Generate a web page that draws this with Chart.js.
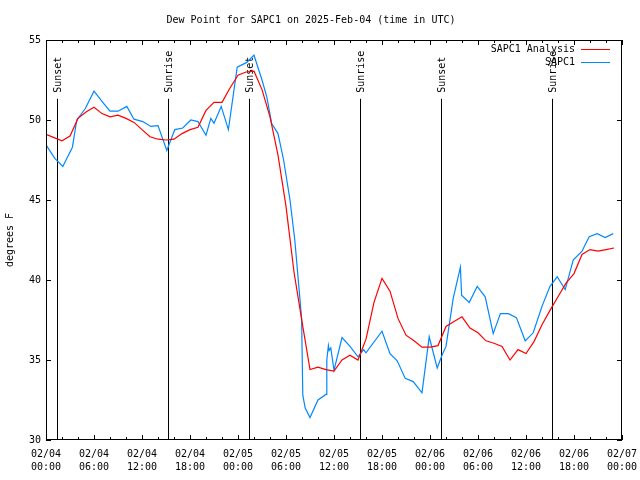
<!DOCTYPE html>
<html>
<head>
<meta charset="utf-8">
<title>Dew Point for SAPC1</title>
<script src="https://cdn.jsdelivr.net/npm/chart.js@4/dist/chart.umd.min.js"></script>
<style>
  html, body { margin: 0; padding: 0; background: #fff; }
  #wrap { width: 640px; height: 480px; }
</style>
</head>
<body>
<div id="wrap"><canvas id="dewChart"></canvas></div>
<script>
// x values are hours since 2025-02-04 00:00 UTC
const analysisHours = [0, 1, 2, 3, 4, 5, 6, 7, 8, 9, 10, 11, 12, 13, 14, 15, 16, 17, 18, 19, 20, 21, 22, 23,
  24, 25, 26, 27, 28, 29, 30, 31, 32, 33, 34, 35, 36, 37, 38, 39, 40, 41, 42, 43, 44, 45, 46, 47,
  48, 49, 50, 51, 52, 53, 54, 55, 56, 57, 58, 59, 60, 61, 62, 63, 64, 65, 66, 67, 68, 69, 70, 71];
const analysisValues = [49.1, 48.9, 48.7, 49.0, 50.1, 50.5, 50.8, 50.4, 50.2, 50.3, 50.1, 49.85, 49.4, 48.95, 48.8, 48.75, 48.8, 49.15, 49.4, 49.55, 50.6, 51.1, 51.1, 52.0,
  52.8, 53.0, 53.05, 51.9, 50.2, 47.8, 44.6, 40.5, 37.4, 34.4, 34.55, 34.4, 34.3, 35.0, 35.3, 35.0, 36.3, 38.6, 40.1, 39.3, 37.6, 36.55, 36.2, 35.8,
  35.8, 35.9, 37.1, 37.4, 37.7, 37.0, 36.7, 36.2, 36.05, 35.85, 35.0, 35.65, 35.4, 36.15, 37.2, 38.1, 38.95, 39.8, 40.4, 41.6, 41.9, 41.8, 41.9, 42.0];

const obsHours = [0.0, 1.1, 2.1, 3.3, 3.85, 4.9, 6.0, 7.1, 8.0, 9.0, 10.1, 11.0, 12.1, 13.1, 14.0, 15.1, 16.1, 17.1, 18.1, 19.0, 20.0, 20.6, 21.0, 21.9, 22.8, 23.9,
  25.1, 26.0, 27.0, 27.6, 28.2, 29.0, 29.7, 30.5, 31.1, 31.5, 31.95, 32.1, 32.4, 33.0, 34.0, 35.0, 35.1, 35.3, 35.4, 35.6, 36.0, 37.0, 38.0, 39.0, 39.7, 40.0,
  42.0, 43.0, 43.9, 44.9, 45.9, 47.0, 47.9, 48.9, 49.5, 50.0, 50.9, 51.8, 51.95, 52.9, 53.9, 54.9, 55.9, 56.8, 57.8, 58.8, 59.9, 60.9,
  62.0, 63.0, 63.9, 64.9, 65.9, 67.0, 67.9, 68.9, 69.9, 70.9];
const obsValues = [48.45, 47.6, 47.1, 48.3, 50.0, 50.7, 51.8, 51.1, 50.55, 50.55, 50.85, 50.05, 49.9, 49.6, 49.65, 48.1, 49.4, 49.5, 50.0, 49.9, 49.05, 50.1, 49.8, 50.85, 49.4, 53.3,
  53.6, 54.05, 52.5, 51.45, 49.8, 49.15, 47.5, 45.0, 42.5, 40.2, 37.6, 32.8, 32.0, 31.4, 32.5, 32.85, 35.0, 35.9, 35.6, 35.75, 34.35, 36.4, 35.85, 35.2, 35.65, 35.45,
  36.8, 35.4, 34.95, 33.85, 33.65, 32.95, 36.45, 34.5, 35.3, 35.85, 38.85, 40.8, 39.05, 38.6, 39.6, 38.95, 36.65, 37.9, 37.9, 37.65, 36.2, 36.7,
  38.35, 39.6, 40.2, 39.4, 41.25, 41.8, 42.7, 42.9, 42.65, 42.9];

// sunrise / sunset markers
const sunHours = [1.4, 15.3, 25.4, 39.2, 49.4, 63.2];
const sunLabels = ['Sunset', 'Sunrise', 'Sunset', 'Sunrise', 'Sunset', 'Sunrise'];

// x tick labels, one per 6 hours
const xTickDates = ['02/04', '02/04', '02/04', '02/04', '02/05', '02/05', '02/05', '02/05', '02/06', '02/06', '02/06', '02/06', '02/07'];
const xTickTimes = ['00:00', '06:00', '12:00', '18:00', '00:00', '06:00', '12:00', '18:00', '00:00', '06:00', '12:00', '18:00', '00:00'];

const FONT = "'DejaVu Sans Mono', 'Liberation Mono', monospace";
const RED = '#ff0000';
const BLUE = '#0088ff';

function toPoints(xs, ys) {
  return xs.map((x, i) => ({ x: x, y: ys[i] }));
}

// sunrise/sunset lines drawn behind the data
const sunMarks = {
  id: 'sunMarks',
  beforeDatasetsDraw(chart) {
    const { ctx, chartArea: a, scales: { x } } = chart;
    const top = a.bottom - a.height * 0.853;
    ctx.save();
    ctx.strokeStyle = '#000';
    ctx.fillStyle = '#000';
    ctx.lineWidth = 1;
    ctx.font = '10px ' + FONT;
    sunHours.forEach((h, i) => {
      const px = Math.round(x.getPixelForValue(h)) + 0.5;
      ctx.beginPath();
      ctx.moveTo(px, a.bottom);
      ctx.lineTo(px, top);
      ctx.stroke();
      ctx.save();
      ctx.translate(px + 1, top - 6);
      ctx.rotate(-Math.PI / 2);
      ctx.textAlign = 'left';
      ctx.textBaseline = 'middle';
      ctx.fillText(sunLabels[i], 0, 0);
      ctx.restore();
    });
    ctx.restore();
  }
};

// gnuplot style frame, inward ticks and legend
const frameAndLegend = {
  id: 'frameAndLegend',
  afterDraw(chart) {
    const { ctx, chartArea: a, scales: { x, y } } = chart;
    ctx.save();
    ctx.strokeStyle = '#000';
    ctx.lineWidth = 1;
    ctx.strokeRect(a.left + 0.5, a.top + 0.5, a.width - 1, a.height - 1);

    ctx.beginPath();
    for (let h = x.min; h <= x.max; h += 2) {
      const px = Math.round(x.getPixelForValue(h)) + 0.5;
      const len = h % 6 === 0 ? 5 : 3;
      ctx.moveTo(px, a.bottom);
      ctx.lineTo(px, a.bottom - len);
      ctx.moveTo(px, a.top);
      ctx.lineTo(px, a.top + len);
    }
    y.ticks.forEach(t => {
      const py = Math.round(y.getPixelForValue(t.value)) + 0.5;
      ctx.moveTo(a.left, py);
      ctx.lineTo(a.left + 5, py);
      ctx.moveTo(a.right, py);
      ctx.lineTo(a.right - 5, py);
    });
    ctx.stroke();

    // legend
    ctx.font = '10px ' + FONT;
    ctx.textAlign = 'right';
    ctx.textBaseline = 'middle';
    chart.data.datasets.forEach((ds, i) => {
      const ly = a.top + 9 + i * 13 + 0.5;
      ctx.fillStyle = '#000';
      ctx.fillText(ds.label, a.right - 47, ly);
      ctx.strokeStyle = ds.borderColor;
      ctx.beginPath();
      ctx.moveTo(a.right - 41, ly);
      ctx.lineTo(a.right - 12, ly);
      ctx.stroke();
    });
    ctx.restore();
  }
};

const ctx = document.getElementById('dewChart').getContext('2d');
new Chart(ctx, {
  type: 'line',
  data: {
    datasets: [
      {
        label: 'SAPC1 Analysis',
        data: toPoints(analysisHours, analysisValues),
        borderColor: RED,
        borderWidth: 1.2,
        pointRadius: 0,
        tension: 0,
        fill: false
      },
      {
        label: 'SAPC1',
        data: toPoints(obsHours, obsValues),
        borderColor: BLUE,
        borderWidth: 1.2,
        pointRadius: 0,
        tension: 0,
        fill: false
      }
    ]
  },
  options: {
    responsive: true,
    maintainAspectRatio: false,
    animation: false,
    events: [],
    layout: { padding: { left: 0, right: 18, top: 0, bottom: 0 } },
    plugins: {
      legend: { display: false },
      tooltip: { enabled: false },
      title: {
        display: true,
        text: 'Dew Point for SAPC1 on 2025-Feb-04 (time in UTC)',
        color: '#000',
        font: { family: FONT, size: 10, weight: 'normal', lineHeight: 1.2 },
        padding: { top: 14, bottom: 14 }
      }
    },
    scales: {
      x: {
        type: 'linear',
        min: 0,
        max: 72,
        grid: { display: false, drawTicks: false, tickLength: 0 },
        border: { display: false },
        ticks: {
          stepSize: 6,
          autoSkip: false,
          maxRotation: 0,
          padding: 8,
          color: '#000',
          font: { family: FONT, size: 10, lineHeight: 1.3 },
          callback: (v) => {
            const i = Math.round(v / 6);
            return [xTickDates[i], xTickTimes[i]];
          }
        },
        afterFit: (scale) => {
          scale.height = 40;
          scale.paddingLeft = 0;
          scale.paddingRight = 0;
        }
      },
      y: {
        min: 30,
        max: 55,
        grid: { display: false, drawTicks: false, tickLength: 0 },
        border: { display: false },
        ticks: {
          stepSize: 5,
          padding: 5,
          color: '#000',
          font: { family: FONT, size: 10 }
        },
        title: {
          display: true,
          text: 'degrees F',
          color: '#000',
          font: { family: FONT, size: 10, lineHeight: 1.2 },
          padding: { top: 4, bottom: 0 }
        },
        afterFit: (scale) => { scale.width = 46; }
      }
    }
  },
  plugins: [sunMarks, frameAndLegend]
});
</script>
</body>
</html>
